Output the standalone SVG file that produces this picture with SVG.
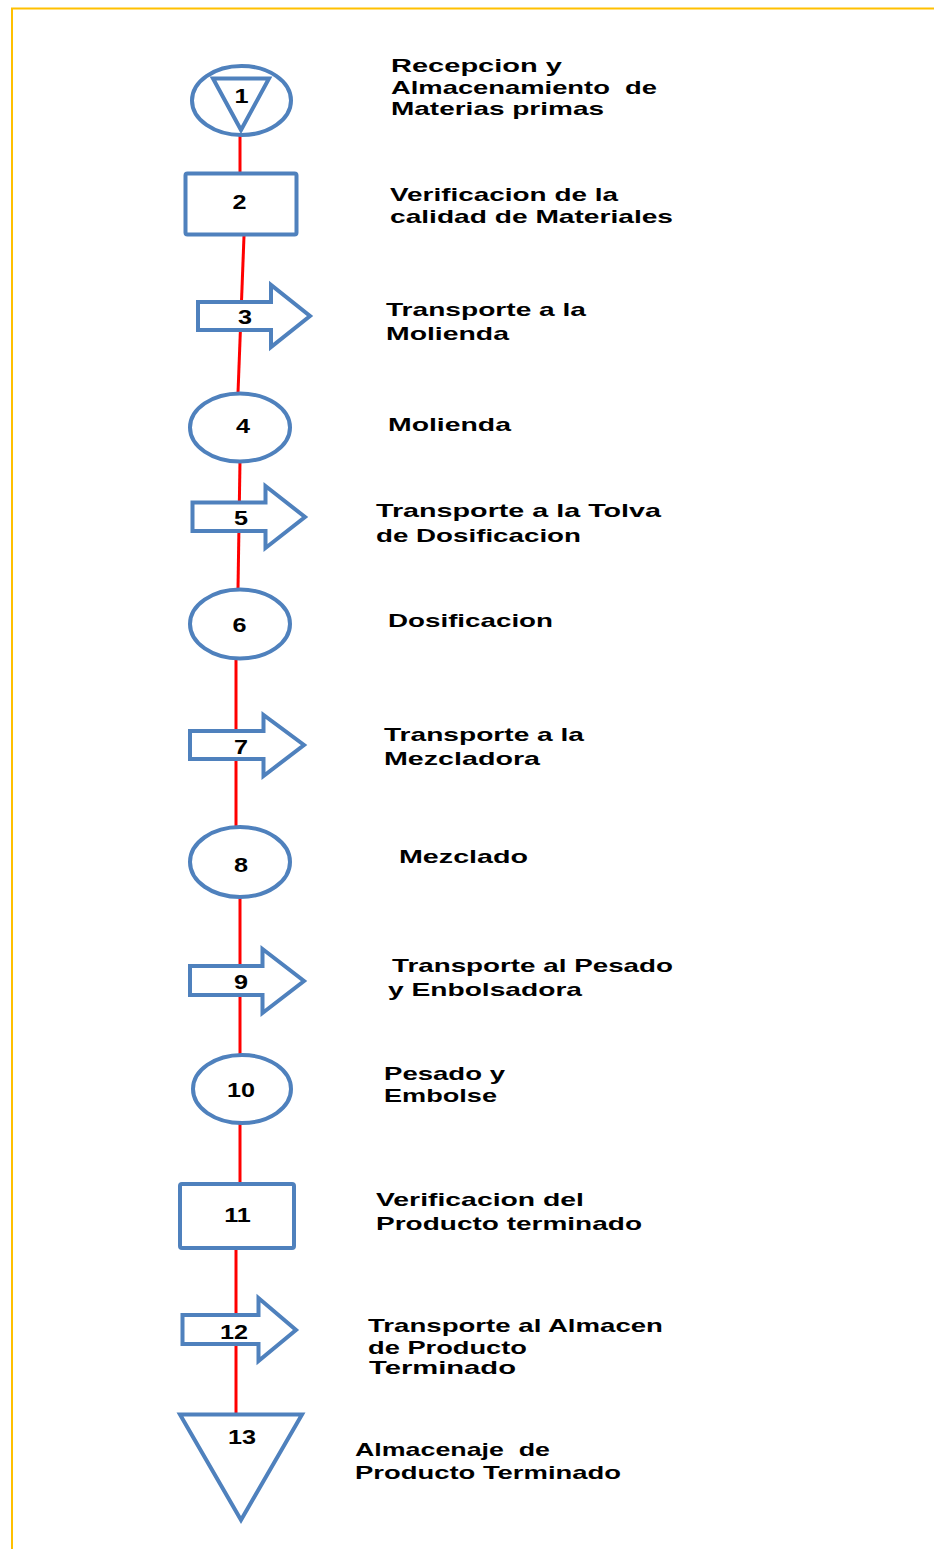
<svg xmlns="http://www.w3.org/2000/svg" width="934" height="1549" viewBox="0 0 934 1549">
<style>
.shape{fill:#fff;stroke:#4F81BD;stroke-width:4;stroke-linejoin:miter}
.conn{stroke:#FF0000;stroke-width:3;fill:none}
.num{font-family:"Liberation Sans",Arial,sans-serif;font-weight:bold;font-size:21px;fill:#000;text-anchor:middle}
.lbl{font-family:"Liberation Sans",Arial,sans-serif;font-weight:bold;font-size:19px;fill:#000}
.frame{stroke:#FFC000;stroke-width:2;fill:none}
</style>
<rect width="934" height="1549" fill="#fff"/>
<g id="frame">
<path class="frame" d="M12,1549 V8.5 H934"/>
</g>
<g id="connectors">
<line class="conn" x1="240" y1="135" x2="240" y2="172"/>
<line class="conn" x1="244" y1="236" x2="238" y2="393"/>
<line class="conn" x1="240" y1="461" x2="238" y2="589"/>
<line class="conn" x1="236" y1="658" x2="236" y2="826"/>
<line class="conn" x1="240" y1="897" x2="240" y2="1055"/>
<line class="conn" x1="240" y1="1123" x2="240" y2="1184"/>
<line class="conn" x1="236" y1="1248" x2="236" y2="1414"/>
</g>
<g id="n1">
<ellipse class="shape" cx="241.5" cy="100.5" rx="49.5" ry="34.5"/>
<path class="shape" d="M213,78.5 H269 L241,130 Z"/>
<text class="num" transform="translate(241.5,103) scale(1.2,1)">1</text>
<text class="lbl" transform="translate(391,72) scale(1.25,1)" textLength="136.8" lengthAdjust="spacingAndGlyphs">Recepcion y</text>
<text class="lbl" transform="translate(391,93.5) scale(1.25,1)" textLength="212.8" lengthAdjust="spacingAndGlyphs" xml:space="preserve">Almacenamiento  de</text>
<text class="lbl" transform="translate(391,115) scale(1.25,1)" textLength="170.4" lengthAdjust="spacingAndGlyphs">Materias primas</text>
</g>
<g id="n2">
<rect class="shape" x="185.5" y="173.5" width="111" height="61" rx="2"/>
<text class="num" transform="translate(239.5,209) scale(1.2,1)">2</text>
<text class="lbl" transform="translate(390,201) scale(1.25,1)" textLength="182.4" lengthAdjust="spacingAndGlyphs">Verificacion de la</text>
<text class="lbl" transform="translate(390,223) scale(1.25,1)" textLength="226.4" lengthAdjust="spacingAndGlyphs">calidad de Materiales</text>
</g>
<g id="n3">
<path class="shape" d="M198,302 H271 V285 L310,316 L271,347 V330 H198 Z"/>
<text class="num" transform="translate(245,324) scale(1.2,1)">3</text>
<text class="lbl" transform="translate(386,316) scale(1.25,1)" textLength="160" lengthAdjust="spacingAndGlyphs">Transporte a la</text>
<text class="lbl" transform="translate(386,340) scale(1.25,1)" textLength="98.4" lengthAdjust="spacingAndGlyphs">Molienda</text>
</g>
<g id="n4">
<ellipse class="shape" cx="240" cy="427.5" rx="50" ry="34"/>
<text class="num" transform="translate(243,433) scale(1.2,1)">4</text>
<text class="lbl" transform="translate(388,431) scale(1.25,1)" textLength="98.4" lengthAdjust="spacingAndGlyphs">Molienda</text>
</g>
<g id="n5">
<path class="shape" d="M192.5,502.5 H265.5 V486 L305,517 L265.5,548 V531 H192.5 Z"/>
<text class="num" transform="translate(241,525) scale(1.2,1)">5</text>
<text class="lbl" transform="translate(376,517) scale(1.25,1)" textLength="228" lengthAdjust="spacingAndGlyphs">Transporte a la Tolva</text>
<text class="lbl" transform="translate(376,542) scale(1.25,1)" textLength="164" lengthAdjust="spacingAndGlyphs">de Dosificacion</text>
</g>
<g id="n6">
<ellipse class="shape" cx="240" cy="624" rx="50" ry="34.5"/>
<text class="num" transform="translate(239.5,631.5) scale(1.2,1)">6</text>
<text class="lbl" transform="translate(388,627) scale(1.25,1)" textLength="132" lengthAdjust="spacingAndGlyphs">Dosificacion</text>
</g>
<g id="n7">
<path class="shape" d="M190,731 H263.5 V715 L304,745 L263.5,776 V759 H190 Z"/>
<text class="num" transform="translate(241,754) scale(1.2,1)">7</text>
<text class="lbl" transform="translate(384,741) scale(1.25,1)" textLength="160" lengthAdjust="spacingAndGlyphs">Transporte a la</text>
<text class="lbl" transform="translate(384,765) scale(1.25,1)" textLength="124.8" lengthAdjust="spacingAndGlyphs">Mezcladora</text>
</g>
<g id="n8">
<ellipse class="shape" cx="240" cy="862" rx="50" ry="35"/>
<text class="num" transform="translate(241,871.5) scale(1.2,1)">8</text>
<text class="lbl" transform="translate(399,863) scale(1.25,1)" textLength="103.2" lengthAdjust="spacingAndGlyphs">Mezclado</text>
</g>
<g id="n9">
<path class="shape" d="M190,966 H262.5 V949 L304,981 L262.5,1013 V995 H190 Z"/>
<text class="num" transform="translate(241,988.5) scale(1.2,1)">9</text>
<text class="lbl" transform="translate(392,971.5) scale(1.25,1)" textLength="224.8" lengthAdjust="spacingAndGlyphs">Transporte al Pesado</text>
<text class="lbl" transform="translate(388,995.5) scale(1.25,1)" textLength="155.2" lengthAdjust="spacingAndGlyphs">y Enbolsadora</text>
</g>
<g id="n10">
<ellipse class="shape" cx="242" cy="1089" rx="49" ry="34"/>
<text class="num" transform="translate(241,1096.5) scale(1.2,1)">10</text>
<text class="lbl" transform="translate(384,1080) scale(1.25,1)" textLength="96.8" lengthAdjust="spacingAndGlyphs">Pesado y</text>
<text class="lbl" transform="translate(384,1101.5) scale(1.25,1)" textLength="90.4" lengthAdjust="spacingAndGlyphs">Embolse</text>
</g>
<g id="n11">
<rect class="shape" x="180" y="1184" width="114" height="64" rx="2"/>
<text class="num" transform="translate(237.5,1221.5) scale(1.2,1)">11</text>
<text class="lbl" transform="translate(376,1206) scale(1.25,1)" textLength="166.4" lengthAdjust="spacingAndGlyphs">Verificacion del</text>
<text class="lbl" transform="translate(376,1230) scale(1.25,1)" textLength="212.8" lengthAdjust="spacingAndGlyphs">Producto terminado</text>
</g>
<g id="n12">
<path class="shape" d="M182.5,1315 H258.5 V1298 L296,1330 L258.5,1361 V1344 H182.5 Z"/>
<text class="num" transform="translate(234,1339) scale(1.2,1)">12</text>
<text class="lbl" transform="translate(368,1331.5) scale(1.25,1)" textLength="236" lengthAdjust="spacingAndGlyphs">Transporte al Almacen</text>
<text class="lbl" transform="translate(368,1353.5) scale(1.25,1)" textLength="127.2" lengthAdjust="spacingAndGlyphs">de Producto</text>
<text class="lbl" transform="translate(369,1374) scale(1.25,1)" textLength="117.6" lengthAdjust="spacingAndGlyphs">Terminado</text>
</g>
<g id="n13">
<path class="shape" d="M180,1414.5 H302 L241,1520 Z"/>
<text class="num" transform="translate(242,1443.5) scale(1.2,1)">13</text>
<text class="lbl" transform="translate(355,1456) scale(1.25,1)" textLength="156" lengthAdjust="spacingAndGlyphs" xml:space="preserve">Almacenaje  de</text>
<text class="lbl" transform="translate(355,1478.5) scale(1.25,1)" textLength="212.8" lengthAdjust="spacingAndGlyphs">Producto Terminado</text>
</g>
</svg>
